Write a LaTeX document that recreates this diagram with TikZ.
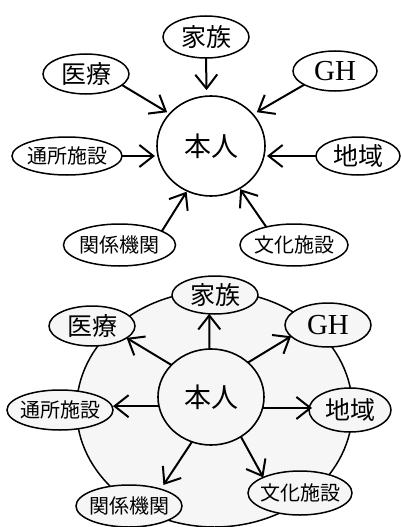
\documentclass[tikz,border=0pt]{standalone}
\usepackage{fontspec}
\newfontfamily\jp{Noto Sans CJK JP}
\newfontfamily\latinserif{Liberation Serif}
\usetikzlibrary{shapes.geometric,arrows.meta}
\begin{document}
\begin{tikzpicture}[x=1pt,y=-1pt,
  lbl/.style={ellipse,draw,line width=1.5pt,inner sep=0pt,outer sep=0pt,
    font=\jp\fontsize{25}{25}\selectfont},
  lblsmall/.style={lbl,font=\jp\fontsize{20}{20}\selectfont},
  lbllatin/.style={lbl,font=\latinserif\fontsize{29}{29}\selectfont},
  selfnode/.style={ellipse,draw,line width=1.6pt,inner sep=0pt,outer sep=0pt,
    font=\jp\fontsize{27}{27}\selectfont},
  arr/.style={line width=2pt,-{Straight Barb[length=14pt,width=22pt]}},
  gfill/.style={fill=gray!7}]
\useasboundingbox (0,0) rectangle (401,527);

% ---------- top diagram ----------
\node[selfnode,minimum width=108pt,minimum height=100pt] (honninT) at (211,146) {\makebox[0pt]{本人}};
\node[lbl,minimum width=86pt,minimum height=42pt] (kazokuT) at (206,37) {\makebox[0pt]{家族}};
\node[lbl,minimum width=86pt,minimum height=40pt] (iryoT) at (86,74) {\makebox[0pt]{医療}};
\node[lbllatin,minimum width=84pt,minimum height=40pt] (ghT) at (335,71) {\makebox[0pt]{GH}};
\node[lblsmall,minimum width=110pt,minimum height=38pt] (tsushoT) at (67,156) {\makebox[0pt]{通所施設}};
\node[lbl,minimum width=84pt,minimum height=38pt] (chiikiT) at (358,156) {\makebox[0pt]{地域}};
\node[lblsmall,minimum width=112pt,minimum height=42pt] (kankeiT) at (119.5,245) {\makebox[0pt]{関係機関}};
\node[lblsmall,minimum width=108pt,minimum height=42pt] (bunkaT) at (294,245) {\makebox[0pt]{文化施設}};

\draw[arr,shorten >=6pt] (kazokuT.-90) -- (honninT.95);
\draw[arr,shorten >=3pt] (iryoT.-17) -- (honninT.142);
\draw[arr,shorten >=4.5pt] (ghT.204) -- (honninT.37);
\draw[arr,shorten >=2pt] (tsushoT.east) -- (tsushoT.east -| honninT.west);
\draw[arr,shorten >=2pt] (chiikiT.west) -- (chiikiT.west -| honninT.east);
\draw[arr,shorten >=1pt] (kankeiT.18) -- (honninT.242);
\draw[arr,shorten >=1pt] (bunkaT.147) -- (honninT.-56);

% ---------- bottom diagram ----------
\node[ellipse,draw,gfill,line width=1.5pt,inner sep=0pt,minimum width=276pt,minimum height=236pt] (ring) at (214.5,409) {};
\node[selfnode,gfill,minimum width=106pt,minimum height=96pt] (honninB) at (211,397) {\makebox[0pt]{本人}};
\node[lbl,gfill,minimum width=86pt,minimum height=38pt] (kazokuB) at (215,295) {\makebox[0pt]{家族}};
\node[lbl,gfill,minimum width=86pt,minimum height=40pt] (iryoB) at (92,326) {\makebox[0pt]{医療}};
\node[lbllatin,gfill,minimum width=86pt,minimum height=44pt] (ghB) at (328,325) {\makebox[0pt]{GH}};
\node[lblsmall,gfill,minimum width=106pt,minimum height=40pt] (tsushoB) at (60,410) {\makebox[0pt]{通所施設}};
\node[lbl,gfill,minimum width=82pt,minimum height=44pt] (chiikiB) at (350,410) {\makebox[0pt]{地域}};
\node[lblsmall,gfill,minimum width=106pt,minimum height=42pt] (kankeiB) at (129,506) {\makebox[0pt]{関係機関}};
\node[lblsmall,gfill,minimum width=104pt,minimum height=44pt] (bunkaB) at (300,493) {\makebox[0pt]{文化施設}};

\draw[arr] (honninB.92) -- (kazokuB.-107);
\draw[arr] (honninB.141) -- (iryoB.-19);
\draw[arr] (honninB.43) -- (ghB.197);
\draw[arr] (honninB.190) -- (honninB.190 -| tsushoB.east);
\draw[arr,shorten >=-3pt] (honninB.-12) -- (honninB.-12 -| chiikiB.west);
\draw[arr,shorten >=5pt] (honninB.247) -- (kankeiB.28);
\draw[arr] (honninB.-53) -- (bunkaB.157);
\end{tikzpicture}
\end{document}
